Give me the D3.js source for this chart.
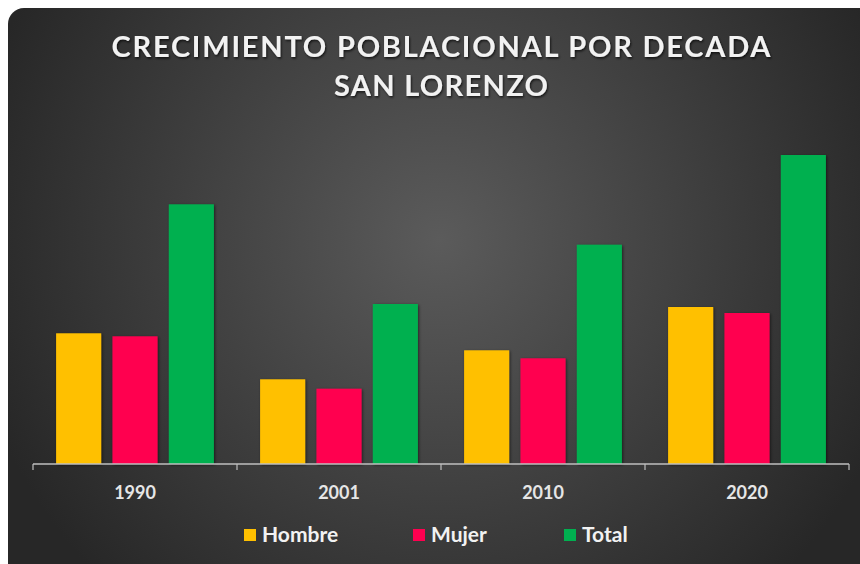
<!DOCTYPE html>
<html>
<head>
<meta charset="utf-8">
<script src="https://cdn.jsdelivr.net/npm/d3@7"></script>
<style>
    html, body { margin: 0; padding: 0; background: #ffffff; }
    svg { display: block; }
    text { font-family: Lato, "Open Sans", sans-serif; font-weight: 700; }
</style>
</head>
<body>
<svg id="chart" width="860" height="564"></svg>
<script>
    // data
    var years = ["1990", "2001", "2010", "2020"];
    var series = ["Hombre", "Mujer", "Total"];
    var hombre = [13070, 8470, 11370, 15700];
    var mujer = [12770, 7530, 10570, 15100];
    var total = [25970, 16000, 21930, 30900];
    var titleLines = ["CRECIMIENTO POBLACIONAL POR DECADA", "SAN LORENZO"];

    var colors = {"Hombre": "#FFC000", "Mujer": "#FF0050", "Total": "#00B050"};
    var values = {"Hombre": hombre, "Mujer": mujer, "Total": total};

    var svg = d3.select("#chart");
    var defs = svg.append("defs");

    var grad = defs.append("radialGradient")
        .attr("id", "bg")
        .attr("gradientUnits", "userSpaceOnUse")
        .attr("cx", 440).attr("cy", 240).attr("r", 480);
    grad.append("stop").attr("offset", "0%").attr("stop-color", "#5b5b5b");
    grad.append("stop").attr("offset", "100%").attr("stop-color", "#272727");

    var shadow = defs.append("filter").attr("id", "shadow")
        .attr("x", "-20%").attr("y", "-20%").attr("width", "140%").attr("height", "140%");
    shadow.append("feDropShadow")
        .attr("dx", 1).attr("dy", 1).attr("stdDeviation", 1.5)
        .attr("flood-color", "#000").attr("flood-opacity", 0.55);

    var tshadow = defs.append("filter").attr("id", "tshadow")
        .attr("x", "-5%").attr("y", "-30%").attr("width", "110%").attr("height", "160%");
    tshadow.append("feDropShadow")
        .attr("dx", 1).attr("dy", 1.5).attr("stdDeviation", 1.2)
        .attr("flood-color", "#000").attr("flood-opacity", 0.7);

    // card
    svg.append("rect")
        .attr("x", 8).attr("y", 8)
        .attr("width", 880).attr("height", 580)
        .attr("rx", 16).attr("ry", 16)
        .attr("fill", "url(#bg)");

    // title
    svg.selectAll(".title")
        .data(titleLines)
        .enter()
        .append("text")
            .attr("class", "title")
            .attr("x", 441)
            .attr("y", function(d, i) { return 57 + i * 39; })
            .attr("text-anchor", "middle")
            .attr("font-size", 29)
            .attr("fill", "#f2f2f2")
            .attr("textLength", function(d, i) { return i == 0 ? 659 : 214; })
            .attr("lengthAdjust", "spacing")
            .attr("filter", "url(#tshadow)")
            .text(function(d) { return d; });

    var baseline = 464;
    var x = d3.scaleBand().domain(years).range([33, 849]).padding(0);
    var xs = d3.scaleBand().domain(series).range([0, x.bandwidth()])
        .paddingInner(0.2).paddingOuter(0.41);
    var y = d3.scaleLinear().domain([0, 35000]).range([baseline, baseline - 350]);

    // bars
    var groups = svg.selectAll(".year")
        .data(years)
        .enter()
        .append("g")
            .attr("class", "year")
            .attr("transform", function(d) { return "translate(" + x(d) + ",0)"; });

    groups.selectAll("rect")
        .data(function(d, i) {
            return series.map(function(s) { return {key: s, value: values[s][i]}; });
        })
        .enter()
        .append("rect")
            .attr("x", function(d) { return xs(d.key); })
            .attr("y", function(d) { return y(d.value); })
            .attr("width", xs.bandwidth())
            .attr("height", function(d) { return baseline - y(d.value); })
            .attr("fill", function(d) { return colors[d.key]; })
            .attr("filter", "url(#shadow)");

    // x axis
    var axis = svg.append("g")
        .attr("transform", "translate(0," + baseline + ")")
        .call(d3.axisBottom(x).tickSize(0).tickPadding(0));
    axis.select(".domain").remove();
    axis.selectAll("text")
        .attr("y", 34.5)
        .attr("dy", null)
        .attr("font-size", 18)
        .attr("font-family", "Lato, sans-serif")
        .attr("fill", "#e6e6e6");

    axis.append("line")
        .attr("x1", x.range()[0]).attr("x2", x.range()[1])
        .attr("y1", 0).attr("y2", 0)
        .attr("stroke", "#bfbfbf").attr("stroke-width", 1.5);

    var edges = years.map(function(d) { return x(d); }).concat([x.range()[1]]);
    axis.selectAll(".edge")
        .data(edges)
        .enter()
        .append("line")
            .attr("class", "edge")
            .attr("x1", function(d) { return d; })
            .attr("x2", function(d) { return d; })
            .attr("y1", 0).attr("y2", 6)
            .attr("stroke", "#bfbfbf").attr("stroke-width", 1.2);

    // legend
    var legendX = [244, 413, 564];
    var legend = svg.selectAll(".legend")
        .data(series)
        .enter()
        .append("g")
            .attr("class", "legend")
            .attr("transform", function(d, i) { return "translate(" + legendX[i] + ",529)"; });

    legend.append("rect")
        .attr("width", 12).attr("height", 12)
        .attr("fill", function(d) { return colors[d]; });

    legend.append("text")
        .attr("x", 18)
        .attr("y", 13)
        .attr("font-size", 21)
        .attr("fill", "#f2f2f2")
        .text(function(d) { return d; });
</script>
</body>
</html>
